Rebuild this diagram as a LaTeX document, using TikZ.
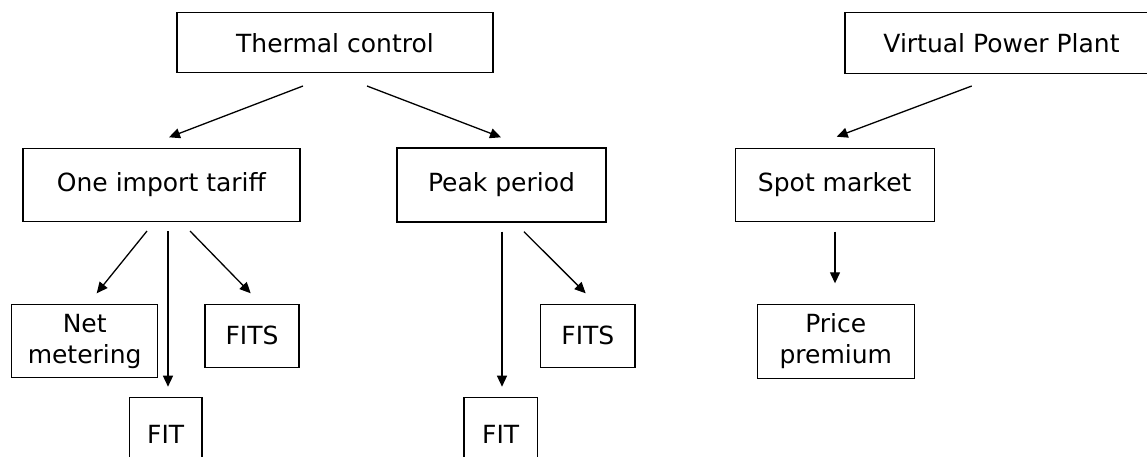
\documentclass[tikz,border=0pt]{standalone}
\usepackage{fontspec}
\setmainfont{DejaVu Sans}
\usetikzlibrary{arrows.meta}
\begin{document}
\begin{tikzpicture}[x=1pt,y=-1pt,
  box/.style={draw=black,line width=1.3pt,inner sep=0pt,align=center,
    font=\fontsize{25}{31}\selectfont},
  conn/.style={line width=1.3pt,-{Triangle[length=11pt,width=10pt]}}]
\useasboundingbox (0,0) rectangle (1147,456);
\clip (0,0) rectangle (1147,456);
% nodes
\node[box,minimum width=316pt,minimum height=60pt] (tc) at (335,42.7) {Thermal control};
\node[box,minimum width=313pt,minimum height=60.6pt] (vpp) at (1001.5,43) {Virtual Power Plant};
\node[box,minimum width=277pt,minimum height=73.4pt] (oit) at (161.4,185) {One import tariff};
\node[box,minimum width=209pt,minimum height=74pt] (pp) at (501.5,185) {Peak period};
\node[box,minimum width=199pt,minimum height=73pt] (sm) at (834.7,184.7) {Spot market};
\node[box,minimum width=146pt,minimum height=73.4pt] (nm) at (84.7,341) {Net\\metering};
\node[box,minimum width=94pt,minimum height=63pt] (fits1) at (252,335.8) {FITS};
\node[box,minimum width=72.7pt,minimum height=73pt] (fit1) at (165.7,434.2) {FIT};
\node[box,minimum width=94.3pt,minimum height=63pt] (fits2) at (587.9,335.8) {FITS};
\node[box,minimum width=73.3pt,minimum height=73pt] (fit2) at (500.7,434.2) {FIT};
\node[box,minimum width=157pt,minimum height=74pt] (price) at (835.8,341.3) {Price\\premium};
% connector ends
\coordinate (tcL) at (303,86);
\coordinate (tcR) at (367,86);
\coordinate (oitT) at (169,137.3);
\coordinate (ppT) at (501,137.3);
\coordinate (vppS) at (971.7,86);
\coordinate (smT) at (836.7,136.7);
\coordinate (oitA) at (147,231);
\coordinate (oitB) at (168,231);
\coordinate (oitC) at (190,231);
\coordinate (nmT) at (96.7,293.3);
\coordinate (fit1T) at (168,386.7);
\coordinate (fits1T) at (250.7,293.3);
\coordinate (ppA) at (502,231.7);
\coordinate (ppB) at (524,231.7);
\coordinate (fit2T) at (502,386.7);
\coordinate (fits2T) at (585.7,293.3);
\coordinate (smS) at (835,231.7);
\coordinate (priceT) at (835,283.3);
% connectors
\draw[conn] (tcL) -- (oitT);
\draw[conn] (tcR) -- (ppT);
\draw[conn] (vppS) -- (smT);
\draw[conn] (oitA) -- (nmT);
\draw[conn] (oitB) -- (fit1T);
\draw[conn] (oitC) -- (fits1T);
\draw[conn] (ppA) -- (fit2T);
\draw[conn] (ppB) -- (fits2T);
\draw[conn] (smS) -- (priceT);
\end{tikzpicture}
\end{document}
